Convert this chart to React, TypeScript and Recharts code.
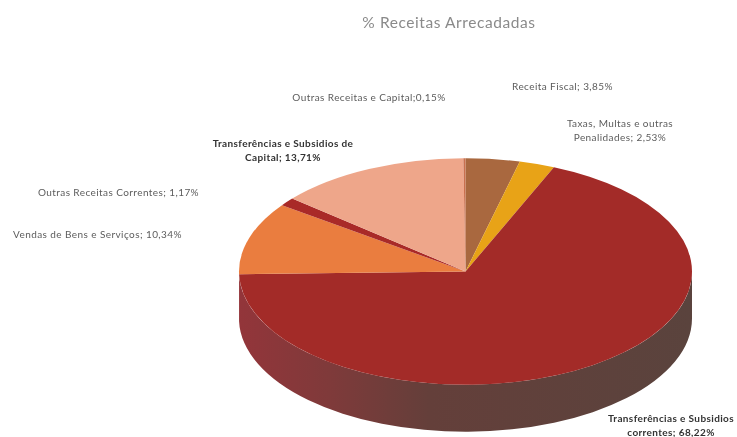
import React from "react";
import { PieChart, Pie, Cell } from "recharts";

const categories = [
  "Receita Fiscal",
  "Taxas, Multas e outras Penalidades",
  "Transferências e Subsidios correntes",
  "Vendas de Bens e Serviços",
  "Outras Receitas Correntes",
  "Transferências e Subsidios de Capital",
  "Outras Receitas e Capital",
];
const shares = [3.85, 2.53, 68.22, 10.34, 1.17, 13.71, 0.15];
const colors = ["#a9683f", "#e8a317", "#a32b28", "#ea7d3f", "#a92a28", "#eea68a", "#c9704f"];

const labelLines = [
  ["Receita Fiscal; 3,85%"],
  ["Taxas, Multas e outras", "Penalidades; 2,53%"],
  ["Transferências e Subsidios", "correntes; 68,22%"],
  ["Vendas de Bens e Serviços; 10,34%"],
  ["Outras Receitas Correntes; 1,17%"],
  ["Transferências e Subsidios de", "Capital; 13,71%"],
  ["Outras Receitas e Capital;0,15%"],
];
const labelAnchors = [
  [562.5, 90],
  [620, 127],
  [671, 422],
  [97.5, 238],
  [118.5, 196],
  [283, 147],
  [369, 101],
];
const boldLabels = [2, 5];

const data = categories.map((name, i) => ({ name, value: shares[i] }));

const WIDTH = 737;
const HEIGHT = 437;
const RX = 226.5;
const SQUASH = 0.5;
const DEPTH = 47;
const RAD = Math.PI / 180;

// flattened sector with a side wall, angles come from the Pie layout
const Slice3D = (props: any) => {
  const { cx, cy, outerRadius, startAngle, endAngle, fill } = props;
  const ry = outerRadius * SQUASH;
  const pt = (a: number, dy = 0) =>
    `${cx + outerRadius * Math.cos(a * RAD)} ${cy - ry * Math.sin(a * RAD) + dy}`;
  const large = Math.abs(endAngle - startAngle) > 180 ? 1 : 0;
  const top = `M ${cx} ${cy} L ${pt(startAngle)} A ${outerRadius} ${ry} 0 ${large} 1 ${pt(endAngle)} Z`;

  // only the part of the arc in the front half shows a wall (angles run 90 to -270)
  const from = Math.min(startAngle, 0);
  const to = Math.max(endAngle, -180);
  let wall = null;
  if (from > to) {
    const big = from - to > 180 ? 1 : 0;
    const d = `M ${pt(from)} A ${outerRadius} ${ry} 0 ${big} 1 ${pt(to)} L ${pt(to, DEPTH)} A ${outerRadius} ${ry} 0 ${big} 0 ${pt(from, DEPTH)} Z`;
    wall = <path d={d} fill="url(#wallShade)" />;
  }
  return (
    <g>
      {wall}
      <path d={top} fill={fill} />
    </g>
  );
};

const SliceLabel = (props: any) => {
  const { index } = props;
  const [x, y] = labelAnchors[index];
  const bold = boldLabels.includes(index);
  return (
    <text
      x={x}
      y={y}
      textAnchor="middle"
      fontFamily="Lato"
      fontSize={10}
      letterSpacing={bold ? 0.38 : 0.42}
      fontWeight={bold ? 700 : 400}
      fill={bold ? "#333333" : "#5c5c5c"}
    >
      {labelLines[index].map((line, i) => (
        <tspan key={line} x={x} dy={i === 0 ? 0 : 14}>
          {line}
        </tspan>
      ))}
    </text>
  );
};

export default function App() {
  return (
    <div
      style={{
        position: "absolute",
        left: 0,
        top: 0,
        width: WIDTH,
        height: HEIGHT,
        overflow: "hidden",
        filter: "blur(0.35px)",
      }}
    >
      <PieChart width={WIDTH} height={HEIGHT} margin={{ top: 0, right: 0, bottom: 0, left: 0 }}>
        <defs>
          <linearGradient id="wallShade" gradientUnits="userSpaceOnUse" x1="239" y1="0" x2="692" y2="0">
            <stop offset="0" stopColor="#93353a" />
            <stop offset="0.2" stopColor="#7f3a3a" />
            <stop offset="0.42" stopColor="#643f3a" />
            <stop offset="1" stopColor="#5a433d" />
          </linearGradient>
        </defs>
        <text x={449} y={28} textAnchor="middle" fontFamily="Lato" fontSize={15.5} letterSpacing={0.58} fill="#8a8a8a">
          % Receitas Arrecadadas
        </text>
        <Pie
          data={data}
          dataKey="value"
          nameKey="name"
          cx={465.5}
          cy={271.5}
          outerRadius={RX}
          startAngle={90}
          endAngle={-270}
          stroke="none"
          isAnimationActive={false}
          shape={Slice3D}
          label={SliceLabel}
          labelLine={false}
        >
          {data.map((d, i) => (
            <Cell key={d.name} fill={colors[i]} />
          ))}
        </Pie>
      </PieChart>
    </div>
  );
}
